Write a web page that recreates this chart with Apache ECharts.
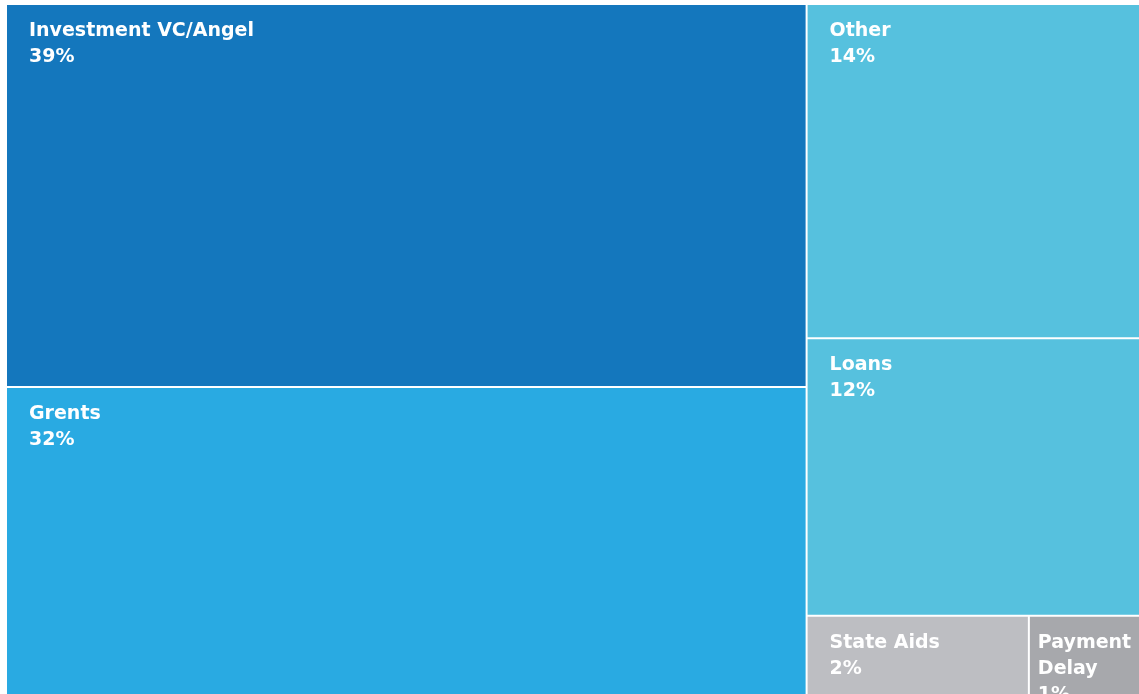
<!DOCTYPE html>
<html>
<head>
<meta charset="utf-8">
<script src="https://cdn.jsdelivr.net/npm/echarts@6/dist/echarts.min.js"></script>
<style>
  html, body { margin: 0; padding: 0; background: #fff; }
  #chart { width: 1139px; height: 694px; }
</style>
</head>
<body>
<div id="chart"></div>
<script>
// sources of funding, share in % (estimated from block areas)
const categories = ['Investment VC/Angel', 'Grents', 'Other', 'Loans', 'State Aids', 'Payment Delay']
const shares = [38.8, 31.8, 14.1, 11.7, 2.4, 1.2]
const colors = ['#1477BD', '#29AAE2', '#56C1DE', '#56C1DE', '#BDBEC2', '#A7A8AC']

const chart = echarts.init(document.getElementById('chart'))

const seriesData = categories.map((name, i) => {
  const item = {
    name: name,
    value: shares[i],
    itemStyle: { color: colors[i] }
  }
  // narrow block: text sits closer to the edge and runs past the bottom
  if (name === 'Payment Delay') {
    item.label = { padding: [13, 0, -30, 8] }
  }
  return item
})

const option = {
  animation: false,
  series: [{
    type: 'treemap',
    left: 7,
    top: 5,
    width: 1132,
    height: 695,
    roam: false,
    nodeClick: false,
    breadcrumb: { show: false },
    label: {
      show: true,
      position: 'insideTopLeft',
      distance: 0,
      padding: [13, 8, 0, 22],
      color: '#fff',
      fontFamily: 'DejaVu Sans',
      fontWeight: 'bold',
      fontSize: 19,
      lineHeight: 26,
      overflow: 'break',
      formatter: (p) => p.name + '\n' + Math.round(p.value) + '%'
    },
    levels: [{
      itemStyle: { borderWidth: 0, gapWidth: 2, borderColor: '#fff' }
    }, {
      itemStyle: { borderWidth: 0, gapWidth: 0 }
    }],
    data: seriesData
  }]
}

chart.setOption(option)
</script>
</body>
</html>
